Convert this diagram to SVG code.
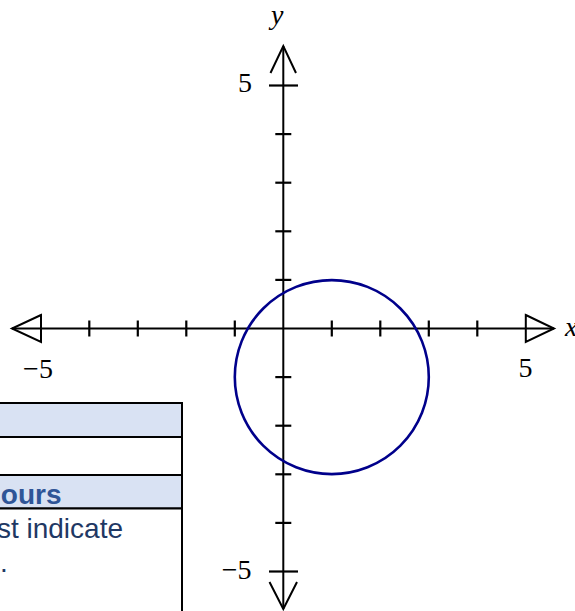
<svg xmlns="http://www.w3.org/2000/svg" width="575" height="611" viewBox="0 0 575 611">
<style>
.ax{stroke:#000;stroke-width:2;fill:none}
.tk{stroke:#000;stroke-width:2.2}
.num{font-family:"Liberation Serif",serif;font-size:28px;fill:#000}
.var{font-family:"Liberation Serif",serif;font-size:28px;font-style:italic;fill:#000}
.hdr{fill:#D9E2F3;stroke:#000;stroke-width:2}
.cell{fill:#fff;stroke:#000;stroke-width:2}
</style>
<rect width="575" height="611" fill="#fff"/>
<g id="table">
<rect class="hdr" x="-5" y="403" width="187" height="34"/>
<rect class="cell" x="-5" y="437" width="187" height="38"/>
<rect class="hdr" x="-5" y="475" width="187" height="33.5"/>
<rect class="cell" x="-5" y="508.5" width="187" height="110"/>
<text x="61.5" y="504" text-anchor="end" style="font-family:'Liberation Sans',Arial,sans-serif;font-size:28px;font-weight:bold;fill:#2F5597">ours</text>
<text x="123" y="537.5" text-anchor="end" style="font-family:'Liberation Sans',Arial,sans-serif;font-size:28px;fill:#1F3864">st indicate</text>
<text x="0" y="572" style="font-family:'Liberation Sans',Arial,sans-serif;font-size:28px;fill:#1F3864">.</text>
</g>
<g id="connectors">
<line class="ax" x1="12" y1="328.5" x2="554" y2="328.5"/>
<line class="ax" x1="283.3" y1="46" x2="283.3" y2="609"/>
<path class="ax" d="M41,315 L12,328.5 L41,342 Z"/>
<path class="ax" d="M525.8,315 L554,328.5 L525.8,342 Z"/>
<path class="ax" d="M270.5,73 L283.3,46 L296,73"/>
<path class="ax" d="M269.5,582 L283.3,609 L297,582"/>
<g id="xticks">
<line class="tk" x1="89.3" y1="320.5" x2="89.3" y2="336.5"/>
<line class="tk" x1="137.8" y1="320.5" x2="137.8" y2="336.5"/>
<line class="tk" x1="186.3" y1="320.5" x2="186.3" y2="336.5"/>
<line class="tk" x1="234.8" y1="320.5" x2="234.8" y2="336.5"/>
<line class="tk" x1="331.8" y1="320.5" x2="331.8" y2="336.5"/>
<line class="tk" x1="380.3" y1="320.5" x2="380.3" y2="336.5"/>
<line class="tk" x1="428.8" y1="320.5" x2="428.8" y2="336.5"/>
<line class="tk" x1="477.3" y1="320.5" x2="477.3" y2="336.5"/>
</g>
<g id="yticks">
<line class="tk" x1="269" y1="85.5" x2="298" y2="85.5"/>
<line class="tk" x1="275.3" y1="134.1" x2="291.3" y2="134.1"/>
<line class="tk" x1="275.3" y1="182.7" x2="291.3" y2="182.7"/>
<line class="tk" x1="275.3" y1="231.3" x2="291.3" y2="231.3"/>
<line class="tk" x1="275.3" y1="279.9" x2="291.3" y2="279.9"/>
<line class="tk" x1="275.3" y1="377.1" x2="291.3" y2="377.1"/>
<line class="tk" x1="275.3" y1="425.7" x2="291.3" y2="425.7"/>
<line class="tk" x1="275.3" y1="474.3" x2="291.3" y2="474.3"/>
<line class="tk" x1="275.3" y1="522.9" x2="291.3" y2="522.9"/>
<line class="tk" x1="269" y1="571.5" x2="298" y2="571.5"/>
</g>
</g>
<g id="labels">
<text class="var" x="271" y="24">y</text>
<text class="var" x="565" y="336">x</text>
<text class="num" x="252" y="92" text-anchor="end">5</text>
<text class="num" x="251.5" y="579" text-anchor="end">−5</text>
<text class="num" x="38" y="378" text-anchor="middle">−5</text>
<text class="num" x="525.5" y="377" text-anchor="middle">5</text>
</g>
<g id="circle">
<circle cx="331.8" cy="377.1" r="97" fill="none" stroke="#00008B" stroke-width="2.6"/>
</g>
</svg>
